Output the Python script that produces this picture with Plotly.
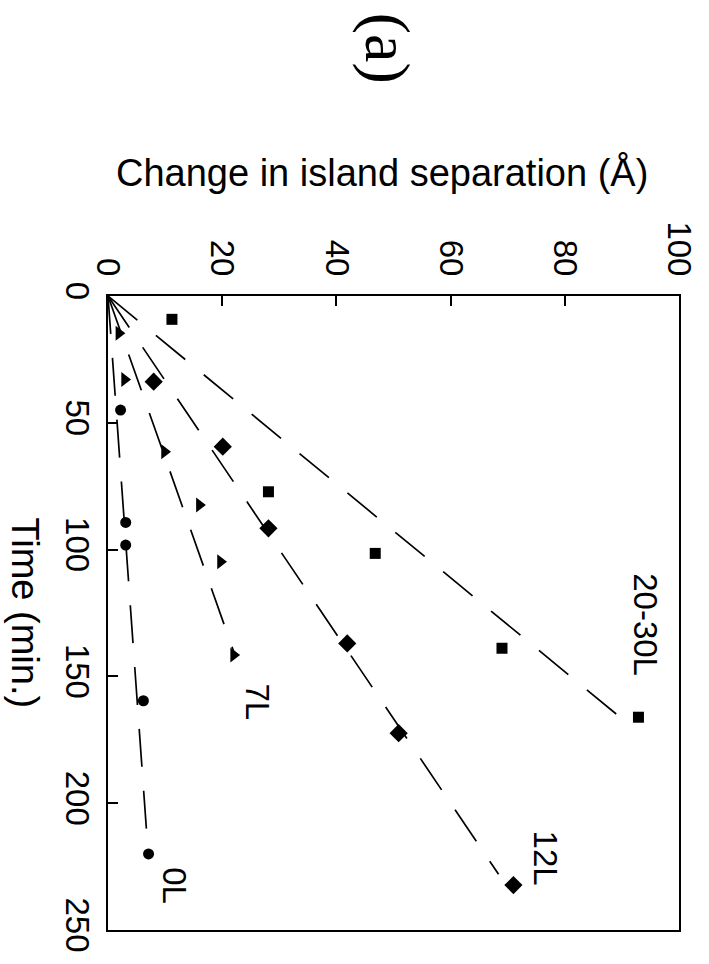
import plotly.graph_objects as go

# ---- data ----
series_names = ["20-30L", "12L", "7L", "0L"]

t_2030 = [9.2, 77.2, 101.5, 138.9, 166.1]
c_2030 = [11.2, 28.1, 46.8, 69.0, 92.9]

t_12 = [33.8, 59.4, 91.6, 137.0, 172.4, 232.3]
c_12 = [8.0, 20.1, 28.1, 41.9, 50.9, 71.0]

t_7 = [14.7, 32.9, 61.4, 82.4, 104.8, 141.6]
c_7 = [1.9, 2.9, 9.9, 16.0, 19.7, 22.0]

t_0 = [45.0, 89.3, 98.2, 159.6, 220.0]
c_0 = [2.2, 3.1, 3.1, 6.2, 7.1]

# dashed fit lines through the origin: slope (Å/min) and end time (min)
fit_slope = [0.54, 0.300, 0.157, 0.032]
fit_tmax = [166.5, 228.0, 140.0, 220.0]

# label positions (change, time) for the series names
label_c = [94.0, 76.6, 26.2, 11.5]
label_t = [129.7, 221.6, 160.1, 232.6]

x_ticks = [0, 20, 40, 60, 80, 100]
y_ticks = [0, 50, 100, 150, 200, 250]

# ---- figure ----
W, H = 709, 964
L, R, T, B = 107.5, 30, 296, 34

fig = go.Figure()

data = [(c_2030, t_2030, "square", 11),
        (c_12, t_12, "diamond", 14),
        (c_7, t_7, "triangle-right", 13),
        (c_0, t_0, "circle", 11)]

for name, slope, tmax in zip(series_names, fit_slope, fit_tmax):
    fig.add_trace(go.Scatter(
        x=[0, slope * tmax], y=[0, tmax], mode="lines",
        line=dict(color="black", width=1.7, dash="38px,24px"),
        showlegend=False, hoverinfo="skip"))

for name, (cs, ts, sym, sz) in zip(series_names, data):
    fig.add_trace(go.Scatter(
        x=cs, y=ts, mode="markers", name=name,
        marker=dict(symbol=sym, size=sz, color="black", line=dict(width=0)),
        showlegend=False))

font_sans = "Liberation Sans, Arial, Helvetica, sans-serif"

for name, lc, lt in zip(series_names, label_c, label_t):
    fig.add_annotation(x=lc, y=lt, xref="x", yref="y", text=name,
                       showarrow=False, textangle=90,
                       xanchor="center", yanchor="middle",
                       font=dict(family=font_sans, size=33, color="black"))

plot_w = W - L - R
plot_h = H - T - B

def px_to_paper(px, py):
    return (px - L) / plot_w, (H - B - py) / plot_h

# axis titles and panel label
xp, yp = px_to_paper(382, 172)
fig.add_annotation(x=xp, y=yp, xref="paper", yref="paper",
                   text="Change in island separation (Å)", showarrow=False,
                   xanchor="center", yanchor="middle",
                   font=dict(family=font_sans, size=38, color="black"))
xp, yp = px_to_paper(24, 613)
fig.add_annotation(x=xp, y=yp, xref="paper", yref="paper",
                   text="Time (min.)", showarrow=False, textangle=90,
                   xanchor="center", yanchor="middle",
                   font=dict(family=font_sans, size=38, color="black"))
xp, yp = px_to_paper(388, 48)
fig.add_annotation(x=xp, y=yp, xref="paper", yref="paper",
                   text="(a)", showarrow=False, textangle=90,
                   xanchor="center", yanchor="middle",
                   font=dict(family="Liberation Serif, Times New Roman, serif",
                             size=64, color="black"))

axis_common = dict(
    showgrid=False, zeroline=False, showline=True, mirror=True,
    linecolor="black", linewidth=2, ticks="inside", ticklen=10,
    tickwidth=1.5, tickcolor="black", tickangle=90,
    tickfont=dict(family=font_sans, size=33, color="black"))

fig.update_layout(
    width=W, height=H,
    margin=dict(l=L, r=R, t=T, b=B, pad=0),
    paper_bgcolor="white", plot_bgcolor="white",
    xaxis=dict(range=[0, 100], side="top", tickvals=x_ticks,
               ticklabelstandoff=6, **axis_common),
    yaxis=dict(range=[250, 0], tickvals=y_ticks,
               ticklabelstandoff=0, **axis_common),
)

fig.write_html("out.html")
